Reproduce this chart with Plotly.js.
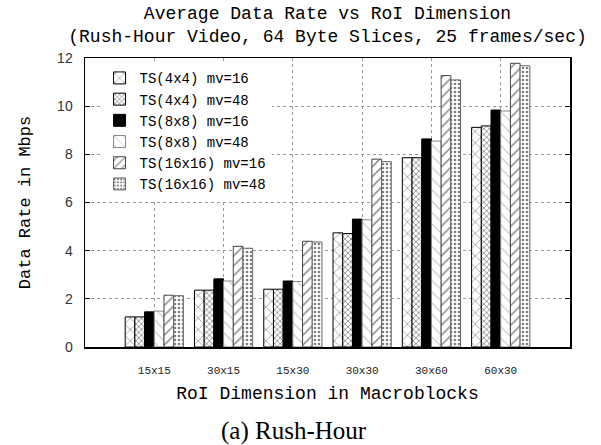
<!DOCTYPE html>
<html>
<head>
<meta charset="utf-8">
<script src="https://cdn.plot.ly/plotly-3.0.1.min.js"></script>
<style>html,body{margin:0;padding:0;background:#fff;}#chart{width:601px;height:445px;}</style>
</head>
<body>
<div id="chart"></div>
<script>
var categories = ["15x15", "30x15", "15x30", "30x30", "30x60", "60x30"];
var seriesNames = ["TS(4x4) mv=16", "TS(4x4) mv=48", "TS(8x8) mv=16", "TS(8x8) mv=48", "TS(16x16) mv=16", "TS(16x16) mv=48"];
var ts4mv16  = [1.25, 2.36, 2.40, 4.74, 7.86, 9.12];
var ts4mv48  = [1.25, 2.36, 2.40, 4.71, 7.86, 9.18];
var ts8mv16  = [1.46, 2.83, 2.74, 5.31, 8.64, 9.84];
var ts8mv48  = [1.49, 2.74, 2.72, 5.28, 8.55, 9.80];
var ts16mv16 = [2.15, 4.18, 4.39, 7.80, 11.27, 11.78];
var ts16mv48 = [2.13, 4.10, 4.36, 7.70, 11.09, 11.68];
var seriesValues = [ts4mv16, ts4mv48, ts8mv16, ts8mv48, ts16mv16, ts16mv48];

var styles = [
  {color: "white", line: {color: "black", width: 1}, pattern: {shape: "x", fgcolor: "black", bgcolor: "white", fillmode: "overlay", size: 8, solidity: 0.15}},
  {color: "white", line: {color: "black", width: 1}, pattern: {shape: "x", fgcolor: "black", bgcolor: "white", fillmode: "overlay", size: 4, solidity: 0.35}},
  {color: "black", line: {color: "black", width: 1}},
  {color: "white", line: {color: "#888", width: 1}, pattern: {shape: "\\", fgcolor: "#777", bgcolor: "white", fillmode: "overlay", size: 8, solidity: 0.12}},
  {color: "white", line: {color: "#444", width: 1}, pattern: {shape: "/", fgcolor: "black", bgcolor: "white", fillmode: "overlay", size: 7, solidity: 0.2}},
  {color: "white", line: {color: "#666", width: 1}, pattern: {shape: ".", fgcolor: "black", bgcolor: "white", fillmode: "overlay", size: 4, solidity: 0.35}}
];

var traces = seriesValues.map(function (vals, i) {
  return {type: "bar", name: seriesNames[i], x: categories, y: vals, marker: styles[i]};
});

var mono = "Liberation Mono, Courier New, monospace";
var layout = {
  width: 601, height: 445,
  margin: {l: 85, r: 31, t: 58, b: 98},
  paper_bgcolor: "white", plot_bgcolor: "white",
  barmode: "group", bargap: 0.16, bargroupgap: 0,
  title: {text: "Average Data Rate vs RoI Dimension<br>(Rush-Hour Video, 64 Byte Slices, 25 frames/sec)",
          font: {family: mono, size: 18, color: "black"}, x: 0.5, xref: "paper",
          yref: "container", y: 0.958, yanchor: "bottom"},
  xaxis: {range: [-1, 6], showline: true, linecolor: "black", linewidth: 1.5, mirror: true,
          showgrid: true, gridcolor: "#999", griddash: "dot", gridwidth: 1, ticks: "",
          tickfont: {family: mono, size: 11, color: "#222"}, ticklabelstandoff: 12,
          title: {text: "RoI Dimension in Macroblocks", font: {family: mono, size: 18, color: "black"}, standoff: 10}},
  yaxis: {range: [0, 12], dtick: 2, showline: true, linecolor: "black", linewidth: 1.5, mirror: "ticks",
          showgrid: true, gridcolor: "#999", griddash: "dot", gridwidth: 1, zeroline: false,
          ticks: "inside", ticklen: 5, tickcolor: "black",
          tickfont: {family: "Liberation Sans, Arial, sans-serif", size: 14, color: "#333"}, ticklabelstandoff: 8,
          title: {text: "Data Rate in Mbps", font: {family: mono, size: 17, color: "black"}, standoff: 22}},
  legend: {x: 0.03, y: 0.985, xanchor: "left", yanchor: "top", bgcolor: "white", borderwidth: 0,
           font: {family: mono, size: 14, color: "black"}, tracegroupgap: 0},
  annotations: [{text: "(a) Rush-Hour", xref: "paper", yref: "paper", x: 0.431, y: 0, yshift: -84,
                 yanchor: "middle", showarrow: false,
                 font: {family: "Liberation Serif, Times New Roman, serif", size: 25, color: "black"}}]
};

Plotly.newPlot("chart", traces, layout, {displayModeBar: false, staticPlot: true});
</script>
</body>
</html>
